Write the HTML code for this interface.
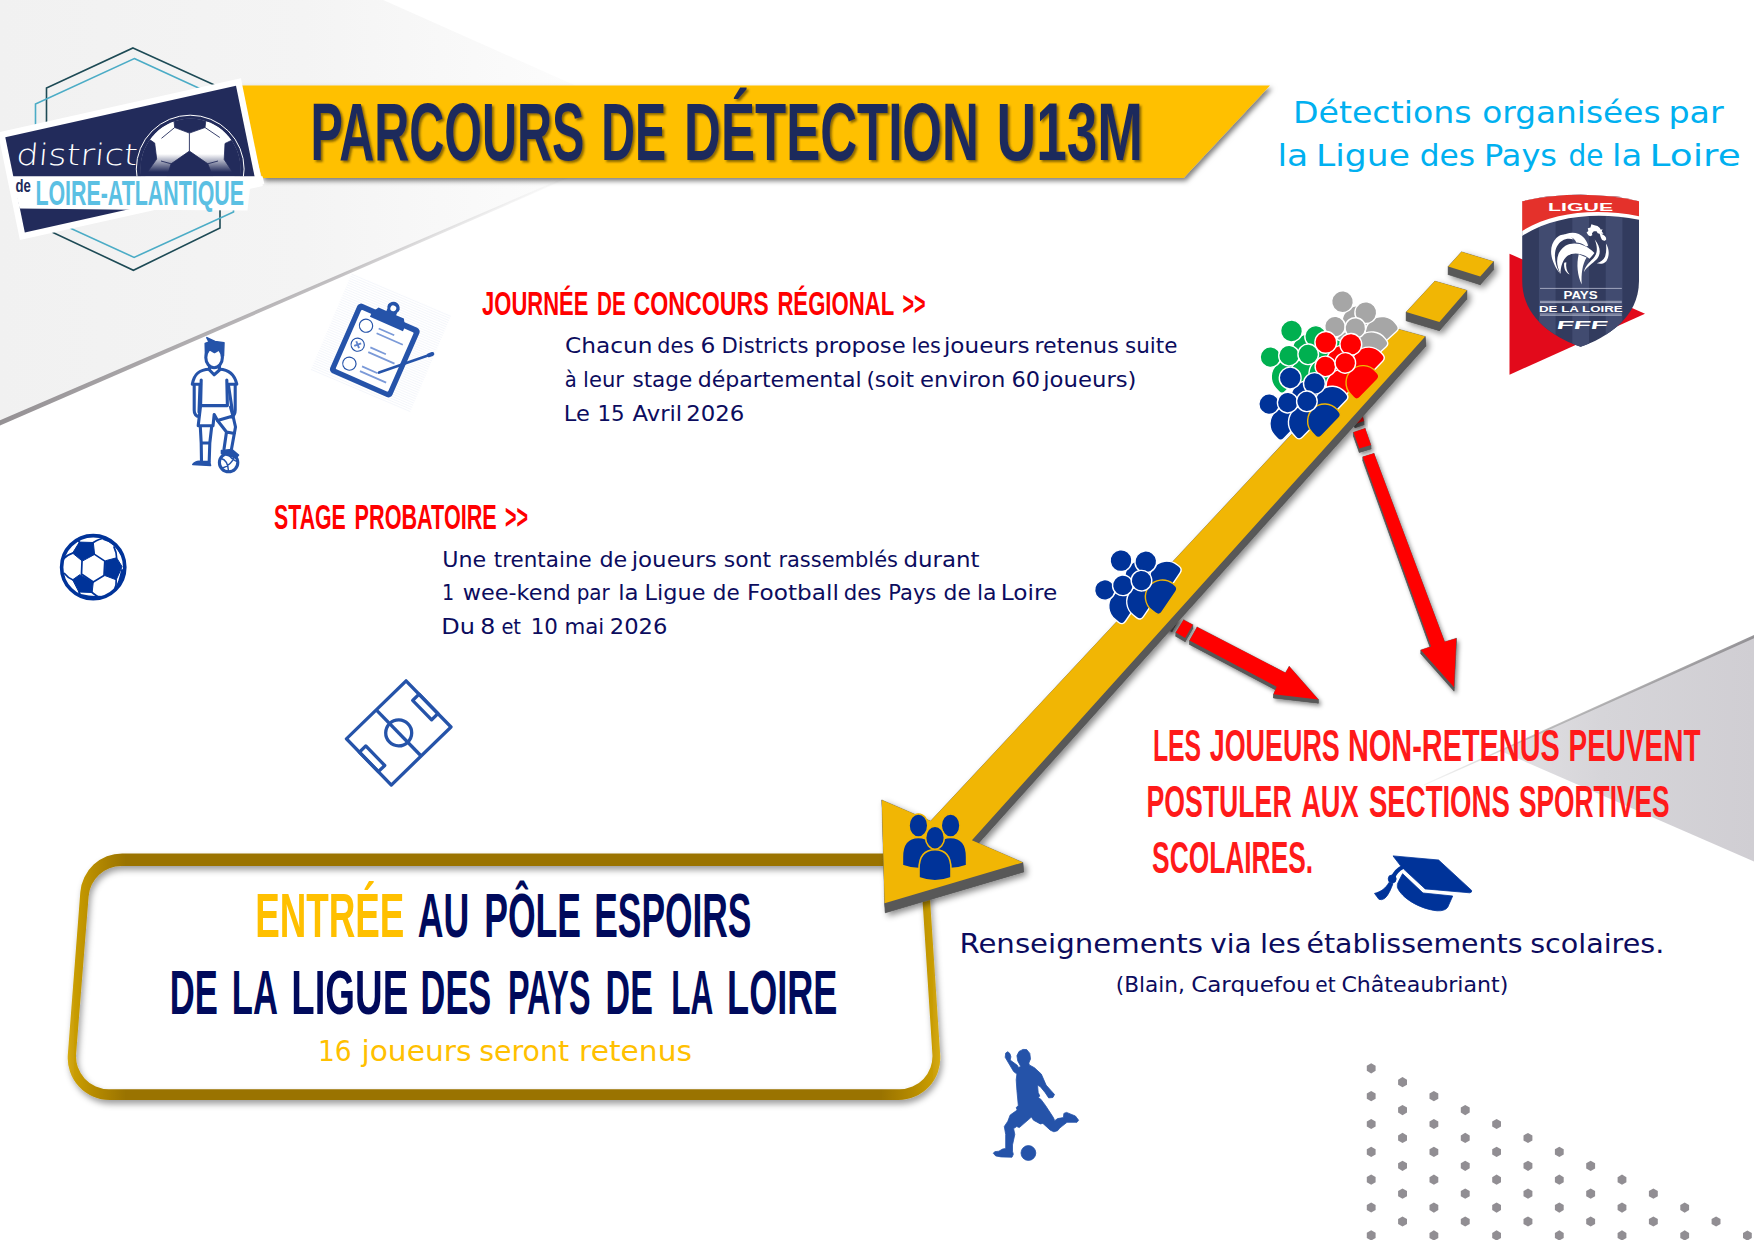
<!DOCTYPE html>
<html lang="fr"><head><meta charset="utf-8"><title>Parcours de détection U13M</title>
<style>
html,body{margin:0;padding:0;background:#fff;}
body{width:1754px;height:1240px;overflow:hidden;font-family:"Liberation Sans",sans-serif;}
svg{display:block;}
</style></head><body>
<svg width="1754" height="1240" viewBox="0 0 1754 1240">
<defs>
<filter id="sh3" x="-20%" y="-20%" width="150%" height="150%"><feDropShadow dx="3" dy="3" stdDeviation="3" flood-color="#000" flood-opacity="0.45"/></filter>
<filter id="sh2" x="-20%" y="-20%" width="150%" height="150%"><feDropShadow dx="2" dy="2.5" stdDeviation="2" flood-color="#000" flood-opacity="0.45"/></filter>
<filter id="shBanner" x="-5%" y="-20%" width="110%" height="150%"><feDropShadow dx="2.5" dy="3" stdDeviation="2.5" flood-color="#000" flood-opacity="0.5"/></filter>
<filter id="shText" x="-5%" y="-20%" width="110%" height="150%"><feDropShadow dx="2" dy="2" stdDeviation="1.2" flood-color="#3a2a00" flood-opacity="0.6"/></filter>
<filter id="shBox" x="-5%" y="-10%" width="110%" height="125%"><feDropShadow dx="2" dy="4" stdDeviation="3" flood-color="#000" flood-opacity="0.38"/></filter>
<filter id="blur2"><feGaussianBlur stdDeviation="1.2"/></filter>
<linearGradient id="gTL" gradientUnits="userSpaceOnUse" x1="0" y1="0" x2="677" y2="0">
 <stop offset="0" stop-color="#f1f1f1"/><stop offset="0.45" stop-color="#f4f4f4"/><stop offset="1" stop-color="#ffffff"/></linearGradient>
<linearGradient id="gTLs" gradientUnits="userSpaceOnUse" x1="0" y1="0" x2="677" y2="0">
 <stop offset="0" stop-color="#8f8b8e" stop-opacity="0.95"/><stop offset="0.5" stop-color="#a9a6a9" stop-opacity="0.7"/><stop offset="0.85" stop-color="#cfcfcf" stop-opacity="0"/></linearGradient>
<linearGradient id="gR" gradientUnits="userSpaceOnUse" x1="1754" y1="0" x2="1500" y2="0">
 <stop offset="0" stop-color="#d0ced3"/><stop offset="0.6" stop-color="#d6d5d9"/><stop offset="1" stop-color="#e2e1e4"/></linearGradient>
<linearGradient id="gRs" gradientUnits="userSpaceOnUse" x1="1754" y1="0" x2="1424" y2="0">
 <stop offset="0" stop-color="#8c8a8e" stop-opacity="0.9"/><stop offset="0.7" stop-color="#aaa" stop-opacity="0.7"/><stop offset="1" stop-color="#ccc" stop-opacity="0.2"/></linearGradient>
</defs>
<rect width="1754" height="1240" fill="#fff"/>
<polygon points="0,0 383.2,0 677,130.7 0,422.2" fill="url(#gTL)"/>
<polygon points="0,420.2 677,129.2 677,131 0,425.6" fill="url(#gTLs)"/>
<polygon points="1754,636.2 1500,750.8 1754,861.4" fill="url(#gR)"/>
<polygon points="1754,635 1424,784.3 1424,785.6 1754,638.3" fill="url(#gRs)"/>
<g fill="#918e93"><polygon points="1371.2,1063.2 1375.6,1065.8 1375.6,1070.8 1371.2,1073.4 1366.8,1070.8 1366.8,1065.8"/><polygon points="1371.2,1091.0 1375.6,1093.6 1375.6,1098.7 1371.2,1101.2 1366.8,1098.7 1366.8,1093.6"/><polygon points="1371.2,1118.9 1375.6,1121.4 1375.6,1126.5 1371.2,1129.1 1366.8,1126.5 1366.8,1121.4"/><polygon points="1371.2,1146.7 1375.6,1149.3 1375.6,1154.4 1371.2,1156.9 1366.8,1154.4 1366.8,1149.3"/><polygon points="1371.2,1174.6 1375.6,1177.1 1375.6,1182.2 1371.2,1184.8 1366.8,1182.2 1366.8,1177.1"/><polygon points="1371.2,1202.4 1375.6,1205.0 1375.6,1210.1 1371.2,1212.6 1366.8,1210.1 1366.8,1205.0"/><polygon points="1371.2,1230.3 1375.6,1232.8 1375.6,1237.9 1371.2,1240.5 1366.8,1237.9 1366.8,1232.8"/><polygon points="1402.5,1077.1 1407.0,1079.7 1407.0,1084.8 1402.5,1087.3 1398.1,1084.8 1398.1,1079.7"/><polygon points="1402.5,1105.0 1407.0,1107.5 1407.0,1112.6 1402.5,1115.2 1398.1,1112.6 1398.1,1107.5"/><polygon points="1402.5,1132.8 1407.0,1135.4 1407.0,1140.5 1402.5,1143.0 1398.1,1140.5 1398.1,1135.4"/><polygon points="1402.5,1160.7 1407.0,1163.2 1407.0,1168.3 1402.5,1170.9 1398.1,1168.3 1398.1,1163.2"/><polygon points="1402.5,1188.5 1407.0,1191.1 1407.0,1196.2 1402.5,1198.7 1398.1,1196.2 1398.1,1191.1"/><polygon points="1402.5,1216.4 1407.0,1218.9 1407.0,1224.0 1402.5,1226.6 1398.1,1224.0 1398.1,1218.9"/><polygon points="1433.9,1091.1 1438.3,1093.6 1438.3,1098.7 1433.9,1101.3 1429.5,1098.7 1429.5,1093.6"/><polygon points="1433.9,1118.9 1438.3,1121.5 1438.3,1126.6 1433.9,1129.1 1429.5,1126.6 1429.5,1121.5"/><polygon points="1433.9,1146.8 1438.3,1149.3 1438.3,1154.4 1433.9,1157.0 1429.5,1154.4 1429.5,1149.3"/><polygon points="1433.9,1174.6 1438.3,1177.2 1438.3,1182.3 1433.9,1184.8 1429.5,1182.3 1429.5,1177.2"/><polygon points="1433.9,1202.5 1438.3,1205.0 1438.3,1210.1 1433.9,1212.7 1429.5,1210.1 1429.5,1205.0"/><polygon points="1433.9,1230.3 1438.3,1232.9 1438.3,1238.0 1433.9,1240.5 1429.5,1238.0 1429.5,1232.9"/><polygon points="1465.2,1105.0 1469.7,1107.5 1469.7,1112.6 1465.2,1115.2 1460.8,1112.6 1460.8,1107.5"/><polygon points="1465.2,1132.8 1469.7,1135.4 1469.7,1140.5 1465.2,1143.0 1460.8,1140.5 1460.8,1135.4"/><polygon points="1465.2,1160.7 1469.7,1163.2 1469.7,1168.3 1465.2,1170.9 1460.8,1168.3 1460.8,1163.2"/><polygon points="1465.2,1188.5 1469.7,1191.1 1469.7,1196.2 1465.2,1198.7 1460.8,1196.2 1460.8,1191.1"/><polygon points="1465.2,1216.4 1469.7,1218.9 1469.7,1224.0 1465.2,1226.6 1460.8,1224.0 1460.8,1218.9"/><polygon points="1496.6,1118.9 1501.0,1121.5 1501.0,1126.6 1496.6,1129.1 1492.2,1126.6 1492.2,1121.5"/><polygon points="1496.6,1146.8 1501.0,1149.3 1501.0,1154.4 1496.6,1157.0 1492.2,1154.4 1492.2,1149.3"/><polygon points="1496.6,1174.6 1501.0,1177.2 1501.0,1182.3 1496.6,1184.8 1492.2,1182.3 1492.2,1177.2"/><polygon points="1496.6,1202.5 1501.0,1205.0 1501.0,1210.1 1496.6,1212.7 1492.2,1210.1 1492.2,1205.0"/><polygon points="1496.6,1230.3 1501.0,1232.9 1501.0,1238.0 1496.6,1240.5 1492.2,1238.0 1492.2,1232.9"/><polygon points="1528.0,1132.9 1532.4,1135.4 1532.4,1140.5 1528.0,1143.0 1523.5,1140.5 1523.5,1135.4"/><polygon points="1528.0,1160.7 1532.4,1163.2 1532.4,1168.3 1528.0,1170.9 1523.5,1168.3 1523.5,1163.2"/><polygon points="1528.0,1188.5 1532.4,1191.1 1532.4,1196.2 1528.0,1198.7 1523.5,1196.2 1523.5,1191.1"/><polygon points="1528.0,1216.4 1532.4,1218.9 1532.4,1224.0 1528.0,1226.6 1523.5,1224.0 1523.5,1218.9"/><polygon points="1559.3,1146.8 1563.7,1149.3 1563.7,1154.4 1559.3,1157.0 1554.9,1154.4 1554.9,1149.3"/><polygon points="1559.3,1174.6 1563.7,1177.2 1563.7,1182.3 1559.3,1184.8 1554.9,1182.3 1554.9,1177.2"/><polygon points="1559.3,1202.5 1563.7,1205.0 1563.7,1210.1 1559.3,1212.7 1554.9,1210.1 1554.9,1205.0"/><polygon points="1559.3,1230.3 1563.7,1232.9 1563.7,1238.0 1559.3,1240.5 1554.9,1238.0 1554.9,1232.9"/><polygon points="1590.7,1160.7 1595.1,1163.3 1595.1,1168.4 1590.7,1170.9 1586.2,1168.4 1586.2,1163.3"/><polygon points="1590.7,1188.6 1595.1,1191.1 1595.1,1196.2 1590.7,1198.8 1586.2,1196.2 1586.2,1191.1"/><polygon points="1590.7,1216.4 1595.1,1219.0 1595.1,1224.1 1590.7,1226.6 1586.2,1224.1 1586.2,1219.0"/><polygon points="1622.0,1174.6 1626.4,1177.2 1626.4,1182.3 1622.0,1184.8 1617.6,1182.3 1617.6,1177.2"/><polygon points="1622.0,1202.5 1626.4,1205.0 1626.4,1210.1 1622.0,1212.7 1617.6,1210.1 1617.6,1205.0"/><polygon points="1622.0,1230.3 1626.4,1232.9 1626.4,1238.0 1622.0,1240.5 1617.6,1238.0 1617.6,1232.9"/><polygon points="1653.4,1188.6 1657.8,1191.1 1657.8,1196.2 1653.4,1198.8 1648.9,1196.2 1648.9,1191.1"/><polygon points="1653.4,1216.4 1657.8,1219.0 1657.8,1224.1 1653.4,1226.6 1648.9,1224.1 1648.9,1219.0"/><polygon points="1684.7,1202.5 1689.1,1205.0 1689.1,1210.1 1684.7,1212.7 1680.3,1210.1 1680.3,1205.0"/><polygon points="1684.7,1230.3 1689.1,1232.9 1689.1,1238.0 1684.7,1240.5 1680.3,1238.0 1680.3,1232.9"/><polygon points="1716.1,1216.4 1720.5,1219.0 1720.5,1224.1 1716.1,1226.6 1711.6,1224.1 1711.6,1219.0"/><polygon points="1747.4,1230.4 1751.8,1232.9 1751.8,1238.0 1747.4,1240.6 1743.0,1238.0 1743.0,1232.9"/></g>
<polygon points="236,85.4 1270,85.4 1183.5,178 262,178" fill="#FFC000" filter="url(#shBanner)"/>
<polygon points="133,48 220,87.6 220,228 133.4,270.3 46.5,229.4 46.5,88" fill="none" stroke="#1d4a55" stroke-width="1.6"/>
<polygon points="134.3,58.6 233.5,104 233.5,212 134.1,257.4 35.5,212.2 35.5,103.9" fill="none" stroke="#4bacc6" stroke-width="1.6"/>
<polygon points="-2.1,132.4 240.9,78.3 262.9,185.9 19.9,240.0" fill="#fff"/>
<polygon points="5.3,137.2 236.0,85.8 255.5,181.1 24.8,232.5" fill="#222B5B"/>
<clipPath id="cpBall"><polygon points="5.3,137.2 236.0,85.8 255.5,176.4 13.4,176.4"/></clipPath>
<clipPath id="cpBall2"><circle cx="190.5" cy="168.5" r="50"/></clipPath>
<linearGradient id="gBall" gradientUnits="userSpaceOnUse" x1="0" y1="154" x2="0" y2="172"><stop offset="0" stop-color="#222B5B" stop-opacity="0"/><stop offset="1" stop-color="#222B5B" stop-opacity="1"/></linearGradient>
<g clip-path="url(#cpBall)"><circle cx="190.2" cy="169.1" r="53.9" fill="none" stroke="#fff" stroke-width="1"/><g clip-path="url(#cpBall2)"><circle cx="190.5" cy="168.5" r="50" fill="#fff"/><g fill="#222B5B" stroke="#222B5B" stroke-width="0.8"><polygon points="170,112 210,112 205.8,120.8 205,127.5 189.4,133.1 174.7,127.5 173.9,120"/><polygon points="189.4,151.1 207.8,163.8 214,180 166,180 171.1,163.8"/><polygon points="130,130 150.7,140.3 154.7,143.1 156.7,159.1 148.7,170.2 140,185 130,185"/><polygon points="250,130 232.5,139.9 225,143.5 224.2,159.5 231.3,170.2 240,185 250,185"/></g><g stroke="#222B5B" stroke-width="0.9" fill="none"><path d="M174.7,127.5 L161.5,138.3 M205,127.5 L219.8,137.5 M189.4,133.1 L189.4,151.1 M171.1,163.8 L161,161 M207.8,163.8 L218,161"/></g><rect x="130" y="150" width="120" height="40" fill="url(#gBall)"/></g></g>
<polygon points="12,176.2 262.5,176.2 264.3,183.7 250,188 247.5,210.5 133,209.8 19.6,208.4" fill="#fff"/>
<g transform="translate(15.4,164.5) skewX(-5)"><text x="0.0" y="0.0" font-family="'DejaVu Sans', sans-serif" font-size="29.50" font-weight="200" fill="#fff" textLength="121.5" lengthAdjust="spacingAndGlyphs" >district</text></g>
<polygon points="1509.5,253.7 1645,313.8 1509.5,374.7" fill="#e20a1b"/>
<clipPath id="cpShield"><path d="M1522.2,201.2 Q1580.6,188.5 1639,201.2 L1639,281 C1639,318 1606,338 1580.6,346.8 C1555,338 1522.2,318 1522.2,281 Z"/></clipPath><g clip-path="url(#cpShield)"><rect x="1520" y="190" width="122" height="160" fill="#323b5e"/><rect x="1538.9" y="190" width="16.7" height="160" fill="#414b70"/><rect x="1572.3" y="190" width="16.7" height="160" fill="#414b70"/><rect x="1605.7" y="190" width="16.7" height="160" fill="#414b70"/><path d="M1515,185 L1645,185 L1645,221 C1600,211 1555,215 1522,236 L1515,240 Z" fill="#fff"/><path d="M1515,185 L1645,185 L1645,217.5 C1600,207.5 1555,211 1522,231 L1515,235 Z" fill="#e4312b"/></g><g fill="#fff" transform="translate(1540,215) scale(0.06046)"><path d="M335,975 C180,780 120,540 270,380 C360,295 480,310 555,405 C450,370 340,410 280,520 C215,640 250,840 335,975 Z"/><path d="M355,350 C470,270 640,270 730,380 C770,430 790,470 795,510 L765,520 C700,470 640,455 600,455 C590,420 560,390 530,375 C470,345 410,340 355,350 Z"/><path d="M340,975 C250,800 260,620 420,510 C560,430 760,480 900,630 L820,725 C720,640 560,600 450,680 C370,750 340,860 340,975 Z"/><path d="M400,790 C390,880 420,950 490,985 C440,930 425,860 435,780 Z"/><path d="M640,650 L770,705 C700,820 680,980 690,1150 C620,1000 600,820 640,650 Z"/><path d="M905,405 C1000,520 1020,650 930,740 C870,800 780,850 725,945 C750,840 820,780 880,720 C950,640 960,540 905,405 Z"/><path d="M1090,470 C1150,560 1150,680 1100,760 C1060,810 1000,815 940,800 C1000,780 1050,740 1075,690 C1100,620 1100,540 1090,470 Z"/><path d="M800,335 L770,290 L800,265 L790,220 L835,205 L850,155 L900,170 L950,180 L990,215 L1005,245 L1035,235 L1020,270 L1050,310 L1010,310 C1060,330 1100,360 1095,400 C1085,435 1040,430 1020,400 C1000,370 1000,340 985,310 L955,300 L935,270 L890,270 L860,300 L865,335 L830,350 Z"/></g><g stroke="#c9cde0" stroke-width="0.7"><path d="M1540,288.4 H1621.8 M1540,301.3 H1621.8 M1540,302.6 H1621.8 M1540,314 H1621.8 M1540,315.3 H1621.8"/></g>
<g transform="translate(1556,329) skewX(-12)"><text x="0.0" y="0.0" font-family="'Liberation Sans', sans-serif" font-size="11.50" font-weight="bold" fill="#fff" textLength="51.0" lengthAdjust="spacingAndGlyphs" >FFF</text></g>
<linearGradient id="gFrame" gradientUnits="userSpaceOnUse" x1="64" y1="0" x2="943" y2="0">
<stop offset="0" stop-color="#dcb21a"/><stop offset="0.012" stop-color="#c99d05"/><stop offset="0.035" stop-color="#b58a00"/><stop offset="0.07" stop-color="#9a7300"/>
<stop offset="0.93" stop-color="#9a7300"/><stop offset="0.965" stop-color="#b58a00"/><stop offset="0.988" stop-color="#c99d05"/><stop offset="1" stop-color="#dcb21a"/></linearGradient>
<path d="M80.3,892.2 A42.0,42.0 0 0 1 122.2,853.4 L887.7,853.4 A42.0,42.0 0 0 1 929.6,892.7 L940.2,1055.3 A42.0,42.0 0 0 1 898.3,1100.0 L109.7,1100.0 A42.0,42.0 0 0 1 67.8,1054.8 Z M88.6,896.4 A33.0,33.0 0 0 1 121.5,866.0 L889.3,866.0 A33.0,33.0 0 0 1 922.3,896.9 L932.4,1054.2 A33.0,33.0 0 0 1 899.4,1089.3 L109.0,1089.3 A33.0,33.0 0 0 1 76.1,1053.7 Z " fill="url(#gFrame)" fill-rule="evenodd" filter="url(#shBox)"/>
<g filter="url(#sh2)"><g fill="#595959" stroke="#595959" stroke-width="0.35" stroke-linejoin="round"><polygon points="1352.0,417.8 1361.0,414.8 1364.0,424.8 1355.0,427.8"/><polygon points="1352.0,414.0 1361.0,411.0 1361.0,414.8 1352.0,417.8"/><polygon points="1361.0,411.0 1364.0,421.0 1364.0,424.8 1361.0,414.8"/><polygon points="1364.0,421.0 1355.0,424.0 1355.0,427.8 1364.0,424.8"/><polygon points="1355.0,424.0 1352.0,414.0 1352.0,417.8 1355.0,427.8"/></g></g><polygon points="1352.0,414.0 1361.0,411.0 1364.0,421.0 1355.0,424.0" fill="#ff0000"/>
<g filter="url(#sh2)"><g fill="#595959" stroke="#595959" stroke-width="0.35" stroke-linejoin="round"><polygon points="1170.0,616.8 1178.0,620.8 1172.0,631.8 1164.0,627.8"/><polygon points="1170.0,613.0 1178.0,617.0 1178.0,620.8 1170.0,616.8"/><polygon points="1178.0,617.0 1172.0,628.0 1172.0,631.8 1178.0,620.8"/><polygon points="1172.0,628.0 1164.0,624.0 1164.0,627.8 1172.0,631.8"/><polygon points="1164.0,624.0 1170.0,613.0 1170.0,616.8 1164.0,627.8"/></g></g><polygon points="1170.0,613.0 1178.0,617.0 1172.0,628.0 1164.0,624.0" fill="#ff0000"/>
<g filter="url(#sh3)"><g fill="#595959" stroke="#595959" stroke-width="0.35" stroke-linejoin="round"><polygon points="1392.3,336.7 1426.0,346.0 972.7,849.7 1023.7,871.9 885.4,912.8 882.6,809.4 931.4,830.6"/><polygon points="1391.5,327.2 1425.2,336.5 1426.0,346.0 1392.3,336.7"/><polygon points="1425.2,336.5 971.9,840.2 972.7,849.7 1426.0,346.0"/><polygon points="971.9,840.2 1022.9,862.4 1023.7,871.9 972.7,849.7"/><polygon points="1022.9,862.4 884.6,903.3 885.4,912.8 1023.7,871.9"/><polygon points="884.6,903.3 881.8,799.9 882.6,809.4 885.4,912.8"/><polygon points="881.8,799.9 930.6,821.1 931.4,830.6 882.6,809.4"/><polygon points="930.6,821.1 1391.5,327.2 1392.3,336.7 931.4,830.6"/></g></g><polygon points="1391.5,327.2 1425.2,336.5 971.9,840.2 1022.9,862.4 884.6,903.3 881.8,799.9 930.6,821.1" fill="#f1b604"/>
<g filter="url(#sh3)"><g fill="#595959" stroke="#595959" stroke-width="0.35" stroke-linejoin="round"><polygon points="1434.9,289.9 1466.9,299.1 1439.4,330.7 1406.2,320.8"/><polygon points="1434.9,281.1 1466.9,290.3 1466.9,299.1 1434.9,289.9"/><polygon points="1466.9,290.3 1439.4,321.9 1439.4,330.7 1466.9,299.1"/><polygon points="1439.4,321.9 1406.2,312.0 1406.2,320.8 1439.4,330.7"/><polygon points="1406.2,312.0 1434.9,281.1 1434.9,289.9 1406.2,320.8"/></g></g><polygon points="1434.9,281.1 1466.9,290.3 1439.4,321.9 1406.2,312.0" fill="#f1b604"/>
<g filter="url(#sh3)"><g fill="#595959" stroke="#595959" stroke-width="0.35" stroke-linejoin="round"><polygon points="1461.5,260.0 1493.5,269.8 1480.2,284.7 1448.2,274.6"/><polygon points="1461.5,251.8 1493.5,261.6 1493.5,269.8 1461.5,260.0"/><polygon points="1493.5,261.6 1480.2,276.5 1480.2,284.7 1493.5,269.8"/><polygon points="1480.2,276.5 1448.2,266.4 1448.2,274.6 1480.2,284.7"/><polygon points="1448.2,266.4 1461.5,251.8 1461.5,260.0 1448.2,274.6"/></g></g><polygon points="1461.5,251.8 1493.5,261.6 1480.2,276.5 1448.2,266.4" fill="#f1b604"/>
<g filter="url(#sh2)"><g fill="#595959" stroke="#595959" stroke-width="0.35" stroke-linejoin="round"><polygon points="1353.4,436.0 1365.1,432.1 1371.0,448.9 1359.3,452.4"/><polygon points="1353.4,432.2 1365.1,428.3 1365.1,432.1 1353.4,436.0"/><polygon points="1365.1,428.3 1371.0,445.1 1371.0,448.9 1365.1,432.1"/><polygon points="1371.0,445.1 1359.3,448.6 1359.3,452.4 1371.0,448.9"/><polygon points="1359.3,448.6 1353.4,432.2 1353.4,436.0 1359.3,452.4"/></g></g><polygon points="1353.4,432.2 1365.1,428.3 1371.0,445.1 1359.3,448.6" fill="#ff0000"/>
<g filter="url(#sh2)"><g fill="#595959" stroke="#595959" stroke-width="0.35" stroke-linejoin="round"><polygon points="1362.8,460.6 1374.0,457.1 1444.7,645.5 1456.4,642.0 1454.0,691.1 1420.8,653.7 1431.1,650.2"/><polygon points="1362.8,456.8 1374.0,453.3 1374.0,457.1 1362.8,460.6"/><polygon points="1374.0,453.3 1444.7,641.7 1444.7,645.5 1374.0,457.1"/><polygon points="1444.7,641.7 1456.4,638.2 1456.4,642.0 1444.7,645.5"/><polygon points="1456.4,638.2 1454.0,687.3 1454.0,691.1 1456.4,642.0"/><polygon points="1454.0,687.3 1420.8,649.9 1420.8,653.7 1454.0,691.1"/><polygon points="1420.8,649.9 1431.1,646.4 1431.1,650.2 1420.8,653.7"/><polygon points="1431.1,646.4 1362.8,456.8 1362.8,460.6 1431.1,650.2"/></g></g><polygon points="1362.8,456.8 1374.0,453.3 1444.7,641.7 1456.4,638.2 1454.0,687.3 1420.8,649.9 1431.1,646.4" fill="#ff0000"/>
<g filter="url(#sh2)"><g fill="#595959" stroke="#595959" stroke-width="0.35" stroke-linejoin="round"><polygon points="1183.6,623.5 1192.8,628.5 1185.2,641.7 1175.8,636.3"/><polygon points="1183.6,619.7 1192.8,624.7 1192.8,628.5 1183.6,623.5"/><polygon points="1192.8,624.7 1185.2,637.9 1185.2,641.7 1192.8,628.5"/><polygon points="1185.2,637.9 1175.8,632.5 1175.8,636.3 1185.2,641.7"/><polygon points="1175.8,632.5 1183.6,619.7 1183.6,623.5 1175.8,636.3"/></g></g><polygon points="1183.6,619.7 1192.8,624.7 1185.2,637.9 1175.8,632.5" fill="#ff0000"/>
<g filter="url(#sh2)"><g fill="#595959" stroke="#595959" stroke-width="0.35" stroke-linejoin="round"><polygon points="1197.1,630.7 1285.4,676.6 1289.2,670.1 1318.4,703.2 1273.5,698.0 1276.7,690.5 1189.5,644.4"/><polygon points="1197.1,626.9 1285.4,672.8 1285.4,676.6 1197.1,630.7"/><polygon points="1285.4,672.8 1289.2,666.3 1289.2,670.1 1285.4,676.6"/><polygon points="1289.2,666.3 1318.4,699.4 1318.4,703.2 1289.2,670.1"/><polygon points="1318.4,699.4 1273.5,694.2 1273.5,698.0 1318.4,703.2"/><polygon points="1273.5,694.2 1276.7,686.7 1276.7,690.5 1273.5,698.0"/><polygon points="1276.7,686.7 1189.5,640.6 1189.5,644.4 1276.7,690.5"/><polygon points="1189.5,640.6 1197.1,626.9 1197.1,630.7 1189.5,644.4"/></g></g><polygon points="1197.1,626.9 1285.4,672.8 1289.2,666.3 1318.4,699.4 1273.5,694.2 1276.7,686.7 1189.5,640.6" fill="#ff0000"/>
<g transform="translate(1342.5,301.7) rotate(0.0)"><g transform="translate(0.0,0.0) rotate(-38.0)" fill="#a6a6a6" stroke="#fff" stroke-width="1.4"><path d="M-17,31 L-17,26.5 A17,17 0 0 1 17,26.5 L17,29 Q17,33.5 12.5,33.8 L-12,35.5 Q-17,35.8 -17,31 Z"/><circle r="10.9" stroke="#fff"/></g><g transform="translate(23.3,10.9) rotate(-38.0)" fill="#a6a6a6" stroke="#fff" stroke-width="1.4"><path d="M-17,31 L-17,26.5 A17,17 0 0 1 17,26.5 L17,29 Q17,33.5 12.5,33.8 L-12,35.5 Q-17,35.8 -17,31 Z"/><circle r="10.9" stroke="#fff"/></g><g transform="translate(-7.5,24.9) rotate(-38.0)" fill="#a6a6a6" stroke="#fff" stroke-width="1.4"><path d="M-17,31 L-17,26.5 A17,17 0 0 1 17,26.5 L17,29 Q17,33.5 12.5,33.8 L-12,35.5 Q-17,35.8 -17,31 Z"/><circle r="10.3" stroke="#fff"/></g><g transform="translate(12.8,26.3) rotate(-38.0)" fill="#a6a6a6" stroke="#fff" stroke-width="1.4"><path d="M-17,31 L-17,26.5 A17,17 0 0 1 17,26.5 L17,29 Q17,33.5 12.5,33.8 L-12,35.5 Q-17,35.8 -17,31 Z"/><circle r="10.3" stroke="#fff"/></g></g>
<g transform="translate(1291.5,331.0) rotate(0.0)"><g transform="translate(0.0,0.0) rotate(-42.0)" fill="#00b050" stroke="#fff" stroke-width="1.4"><path d="M-17,31 L-17,26.5 A17,17 0 0 1 17,26.5 L17,29 Q17,33.5 12.5,33.8 L-12,35.5 Q-17,35.8 -17,31 Z"/><circle r="10.9" stroke="#fff"/></g><g transform="translate(24.2,5.5) rotate(-42.0)" fill="#00b050" stroke="#fff" stroke-width="1.4"><path d="M-17,31 L-17,26.5 A17,17 0 0 1 17,26.5 L17,29 Q17,33.5 12.5,33.8 L-12,35.5 Q-17,35.8 -17,31 Z"/><circle r="10.9" stroke="#fff"/></g><g transform="translate(-21.0,26.1) rotate(-42.0)" fill="#00b050" stroke="#fff" stroke-width="1.4"><path d="M-17,31 L-17,26.5 A17,17 0 0 1 17,26.5 L17,29 Q17,33.5 12.5,33.8 L-12,35.5 Q-17,35.8 -17,31 Z"/><circle r="10.3" stroke="#fff"/></g><g transform="translate(-2.5,24.7) rotate(-42.0)" fill="#00b050" stroke="#fff" stroke-width="1.4"><path d="M-17,31 L-17,26.5 A17,17 0 0 1 17,26.5 L17,29 Q17,33.5 12.5,33.8 L-12,35.5 Q-17,35.8 -17,31 Z"/><circle r="10.3" stroke="#fff"/></g><g transform="translate(16.7,23.3) rotate(-42.0)" fill="#00b050" stroke="#fff" stroke-width="1.4"><path d="M-17,31 L-17,26.5 A17,17 0 0 1 17,26.5 L17,29 Q17,33.5 12.5,33.8 L-12,35.5 Q-17,35.8 -17,31 Z"/><circle r="10.3" stroke="#fff"/></g></g>
<g transform="translate(1325.8,342.4) rotate(0.0)"><g transform="translate(0.0,0.0) rotate(-42.0)" fill="#ff0000" stroke="#fff" stroke-width="1.4"><path d="M-17,31 L-17,26.5 A17,17 0 0 1 17,26.5 L17,29 Q17,33.5 12.5,33.8 L-12,35.5 Q-17,35.8 -17,31 Z"/><circle r="10.9" stroke="#fff"/></g><g transform="translate(25.0,2.0) rotate(-42.0)" fill="#ff0000" stroke="#fff" stroke-width="1.4"><path d="M-17,31 L-17,26.5 A17,17 0 0 1 17,26.5 L17,29 Q17,33.5 12.5,33.8 L-12,35.5 Q-17,35.8 -17,31 Z"/><circle r="10.9" stroke="#fff"/></g><g transform="translate(-0.4,24.0) rotate(-42.0)" fill="#ff0000" stroke="#fff" stroke-width="1.4"><path d="M-17,31 L-17,26.5 A17,17 0 0 1 17,26.5 L17,29 Q17,33.5 12.5,33.8 L-12,35.5 Q-17,35.8 -17,31 Z"/><circle r="10.3" stroke="#fff"/></g><g transform="translate(19.5,20.5) rotate(-42.0)" fill="#ff0000" stroke="#f1b604" stroke-width="1.4"><path d="M-17,31 L-17,26.5 A17,17 0 0 1 17,26.5 L17,29 Q17,33.5 12.5,33.8 L-12,35.5 Q-17,35.8 -17,31 Z"/><circle r="10.3" stroke="#fff"/></g></g>
<g transform="translate(1290.2,378.0) rotate(0.0)"><g transform="translate(0.0,0.0) rotate(-42.0)" fill="#003399" stroke="#fff" stroke-width="1.4"><path d="M-17,31 L-17,26.5 A17,17 0 0 1 17,26.5 L17,29 Q17,33.5 12.5,33.8 L-12,35.5 Q-17,35.8 -17,31 Z"/><circle r="10.9" stroke="#fff"/></g><g transform="translate(24.2,5.5) rotate(-42.0)" fill="#003399" stroke="#fff" stroke-width="1.4"><path d="M-17,31 L-17,26.5 A17,17 0 0 1 17,26.5 L17,29 Q17,33.5 12.5,33.8 L-12,35.5 Q-17,35.8 -17,31 Z"/><circle r="10.9" stroke="#fff"/></g><g transform="translate(-21.0,26.1) rotate(-42.0)" fill="#003399" stroke="#fff" stroke-width="1.4"><path d="M-17,31 L-17,26.5 A17,17 0 0 1 17,26.5 L17,29 Q17,33.5 12.5,33.8 L-12,35.5 Q-17,35.8 -17,31 Z"/><circle r="10.3" stroke="#fff"/></g><g transform="translate(-2.5,24.7) rotate(-42.0)" fill="#003399" stroke="#fff" stroke-width="1.4"><path d="M-17,31 L-17,26.5 A17,17 0 0 1 17,26.5 L17,29 Q17,33.5 12.5,33.8 L-12,35.5 Q-17,35.8 -17,31 Z"/><circle r="10.3" stroke="#fff"/></g><g transform="translate(16.7,23.3) rotate(-42.0)" fill="#003399" stroke="#f1b604" stroke-width="1.4"><path d="M-17,31 L-17,26.5 A17,17 0 0 1 17,26.5 L17,29 Q17,33.5 12.5,33.8 L-12,35.5 Q-17,35.8 -17,31 Z"/><circle r="10.3" stroke="#fff"/></g></g>
<g transform="translate(1121.0,560.6) rotate(-10.0)"><g transform="translate(0.0,0.0) rotate(-42.0)" fill="#003399" stroke="#fff" stroke-width="1.4"><path d="M-17,31 L-17,26.5 A17,17 0 0 1 17,26.5 L17,29 Q17,33.5 12.5,33.8 L-12,35.5 Q-17,35.8 -17,31 Z"/><circle r="10.9" stroke="#fff"/></g><g transform="translate(24.2,5.5) rotate(-42.0)" fill="#003399" stroke="#fff" stroke-width="1.4"><path d="M-17,31 L-17,26.5 A17,17 0 0 1 17,26.5 L17,29 Q17,33.5 12.5,33.8 L-12,35.5 Q-17,35.8 -17,31 Z"/><circle r="10.9" stroke="#fff"/></g><g transform="translate(-21.0,26.1) rotate(-42.0)" fill="#003399" stroke="#fff" stroke-width="1.4"><path d="M-17,31 L-17,26.5 A17,17 0 0 1 17,26.5 L17,29 Q17,33.5 12.5,33.8 L-12,35.5 Q-17,35.8 -17,31 Z"/><circle r="10.3" stroke="#fff"/></g><g transform="translate(-2.5,24.7) rotate(-42.0)" fill="#003399" stroke="#fff" stroke-width="1.4"><path d="M-17,31 L-17,26.5 A17,17 0 0 1 17,26.5 L17,29 Q17,33.5 12.5,33.8 L-12,35.5 Q-17,35.8 -17,31 Z"/><circle r="10.3" stroke="#fff"/></g><g transform="translate(16.7,23.3) rotate(-42.0)" fill="#003399" stroke="#f1b604" stroke-width="1.4"><path d="M-17,31 L-17,26.5 A17,17 0 0 1 17,26.5 L17,29 Q17,33.5 12.5,33.8 L-12,35.5 Q-17,35.8 -17,31 Z"/><circle r="10.3" stroke="#fff"/></g></g>
<g fill="#003399" stroke="#f1b604" stroke-width="1.6"><path d="M902.4,857.0 c0,-14 6,-19.5 16,-19.5 c10,0 16,5.5 16,19.5 l0,8.5 q-16,6 -32,0 z"/><ellipse cx="918.4" cy="825.5" rx="9.4" ry="11.5"/><path d="M934.6,857.0 c0,-14 6,-19.5 16,-19.5 c10,0 16,5.5 16,19.5 l0,8.5 q-16,6 -32,0 z"/><ellipse cx="950.6" cy="825.5" rx="9.4" ry="11.5"/><path d="M919.0,869.2 c0,-14 6,-19.5 16,-19.5 c10,0 16,5.5 16,19.5 l0,8.5 q-16,6 -32,0 z"/><ellipse cx="935.0" cy="837.7" rx="9.4" ry="11.5"/></g>
<g filter="url(#shText)"><text x="310.5" y="160.3" font-family="'Liberation Sans', sans-serif" font-size="81.60" font-weight="bold" fill="#1F2A5C" textLength="273.9" lengthAdjust="spacingAndGlyphs" >PARCOURS</text><text x="601.3" y="160.3" font-family="'Liberation Sans', sans-serif" font-size="81.60" font-weight="bold" fill="#1F2A5C" textLength="64.9" lengthAdjust="spacingAndGlyphs" >DE</text><text x="684.1" y="160.3" font-family="'Liberation Sans', sans-serif" font-size="81.60" font-weight="bold" fill="#1F2A5C" textLength="294.8" lengthAdjust="spacingAndGlyphs" >DÉTECTION</text><text x="996.6" y="160.3" font-family="'Liberation Sans', sans-serif" font-size="81.60" font-weight="bold" fill="#1F2A5C" textLength="146.5" lengthAdjust="spacingAndGlyphs" >U13M</text></g>
<text x="1292.9" y="122.9" font-family="'DejaVu Sans', sans-serif" font-size="30.90" font-weight="normal" fill="#00b0f0" textLength="178.7" lengthAdjust="spacingAndGlyphs" >Détections</text><text x="1482.2" y="122.9" font-family="'DejaVu Sans', sans-serif" font-size="30.90" font-weight="normal" fill="#00b0f0" textLength="178.3" lengthAdjust="spacingAndGlyphs" >organisées</text><text x="1668.4" y="122.9" font-family="'DejaVu Sans', sans-serif" font-size="30.90" font-weight="normal" fill="#00b0f0" textLength="55.3" lengthAdjust="spacingAndGlyphs" >par</text><text x="1277.4" y="166.3" font-family="'DejaVu Sans', sans-serif" font-size="30.90" font-weight="normal" fill="#00b0f0" textLength="30.8" lengthAdjust="spacingAndGlyphs" >la</text><text x="1316.0" y="166.3" font-family="'DejaVu Sans', sans-serif" font-size="30.90" font-weight="normal" fill="#00b0f0" textLength="93.9" lengthAdjust="spacingAndGlyphs" >Ligue</text><text x="1419.7" y="166.3" font-family="'DejaVu Sans', sans-serif" font-size="30.90" font-weight="normal" fill="#00b0f0" textLength="55.4" lengthAdjust="spacingAndGlyphs" >des</text><text x="1484.0" y="166.3" font-family="'DejaVu Sans', sans-serif" font-size="30.90" font-weight="normal" fill="#00b0f0" textLength="73.0" lengthAdjust="spacingAndGlyphs" >Pays</text><text x="1568.5" y="166.3" font-family="'DejaVu Sans', sans-serif" font-size="30.90" font-weight="normal" fill="#00b0f0" textLength="35.0" lengthAdjust="spacingAndGlyphs" >de</text><text x="1612.0" y="166.3" font-family="'DejaVu Sans', sans-serif" font-size="30.90" font-weight="normal" fill="#00b0f0" textLength="30.2" lengthAdjust="spacingAndGlyphs" >la</text><text x="1649.6" y="166.3" font-family="'DejaVu Sans', sans-serif" font-size="30.90" font-weight="normal" fill="#00b0f0" textLength="91.1" lengthAdjust="spacingAndGlyphs" >Loire</text><text x="482.1" y="315.2" font-family="'Liberation Sans', sans-serif" font-size="33.60" font-weight="bold" fill="#ff0000" textLength="106.3" lengthAdjust="spacingAndGlyphs" >JOURNÉE</text><text x="597.1" y="315.2" font-family="'Liberation Sans', sans-serif" font-size="33.60" font-weight="bold" fill="#ff0000" textLength="28.7" lengthAdjust="spacingAndGlyphs" >DE</text><text x="633.4" y="315.2" font-family="'Liberation Sans', sans-serif" font-size="33.60" font-weight="bold" fill="#ff0000" textLength="135.2" lengthAdjust="spacingAndGlyphs" >CONCOURS</text><text x="777.4" y="315.2" font-family="'Liberation Sans', sans-serif" font-size="33.60" font-weight="bold" fill="#ff0000" textLength="116.8" lengthAdjust="spacingAndGlyphs" >RÉGIONAL</text><text x="902.5" y="315.2" font-family="'Liberation Sans', sans-serif" font-size="33.60" font-weight="bold" fill="#ff0000" textLength="23.1" lengthAdjust="spacingAndGlyphs" >&gt;&gt;</text><text x="274.0" y="528.7" font-family="'Liberation Sans', sans-serif" font-size="34.60" font-weight="bold" fill="#ff0000" textLength="71.8" lengthAdjust="spacingAndGlyphs" >STAGE</text><text x="354.6" y="528.7" font-family="'Liberation Sans', sans-serif" font-size="34.60" font-weight="bold" fill="#ff0000" textLength="142.2" lengthAdjust="spacingAndGlyphs" >PROBATOIRE</text><text x="505.0" y="528.7" font-family="'Liberation Sans', sans-serif" font-size="34.60" font-weight="bold" fill="#ff0000" textLength="23.0" lengthAdjust="spacingAndGlyphs" >&gt;&gt;</text><text x="565.0" y="353.4" font-family="'DejaVu Sans', sans-serif" font-size="21.00" font-weight="normal" fill="#0c0c5e" textLength="87.4" lengthAdjust="spacingAndGlyphs" >Chacun</text><text x="657.3" y="353.4" font-family="'DejaVu Sans', sans-serif" font-size="21.00" font-weight="normal" fill="#0c0c5e" textLength="36.7" lengthAdjust="spacingAndGlyphs" >des</text><text x="700.6" y="353.4" font-family="'DejaVu Sans', sans-serif" font-size="21.00" font-weight="normal" fill="#0c0c5e" textLength="14.9" lengthAdjust="spacingAndGlyphs" >6</text><text x="721.5" y="353.4" font-family="'DejaVu Sans', sans-serif" font-size="21.00" font-weight="normal" fill="#0c0c5e" textLength="86.9" lengthAdjust="spacingAndGlyphs" >Districts</text><text x="814.4" y="353.4" font-family="'DejaVu Sans', sans-serif" font-size="21.00" font-weight="normal" fill="#0c0c5e" textLength="91.3" lengthAdjust="spacingAndGlyphs" >propose</text><text x="911.5" y="353.4" font-family="'DejaVu Sans', sans-serif" font-size="21.00" font-weight="normal" fill="#0c0c5e" textLength="29.4" lengthAdjust="spacingAndGlyphs" >les</text><text x="943.9" y="353.4" font-family="'DejaVu Sans', sans-serif" font-size="21.00" font-weight="normal" fill="#0c0c5e" textLength="85.8" lengthAdjust="spacingAndGlyphs" >joueurs</text><text x="1034.5" y="353.4" font-family="'DejaVu Sans', sans-serif" font-size="21.00" font-weight="normal" fill="#0c0c5e" textLength="84.2" lengthAdjust="spacingAndGlyphs" >retenus</text><text x="1125.0" y="353.4" font-family="'DejaVu Sans', sans-serif" font-size="21.00" font-weight="normal" fill="#0c0c5e" textLength="52.4" lengthAdjust="spacingAndGlyphs" >suite</text><text x="564.7" y="387.3" font-family="'DejaVu Sans', sans-serif" font-size="21.00" font-weight="normal" fill="#0c0c5e" textLength="12.0" lengthAdjust="spacingAndGlyphs" >à</text><text x="583.1" y="387.3" font-family="'DejaVu Sans', sans-serif" font-size="21.00" font-weight="normal" fill="#0c0c5e" textLength="40.9" lengthAdjust="spacingAndGlyphs" >leur</text><text x="632.4" y="387.3" font-family="'DejaVu Sans', sans-serif" font-size="21.00" font-weight="normal" fill="#0c0c5e" textLength="59.9" lengthAdjust="spacingAndGlyphs" >stage</text><text x="697.7" y="387.3" font-family="'DejaVu Sans', sans-serif" font-size="21.00" font-weight="normal" fill="#0c0c5e" textLength="163.9" lengthAdjust="spacingAndGlyphs" >départemental</text><text x="866.4" y="387.3" font-family="'DejaVu Sans', sans-serif" font-size="21.00" font-weight="normal" fill="#0c0c5e" textLength="47.7" lengthAdjust="spacingAndGlyphs" >(soit</text><text x="920.1" y="387.3" font-family="'DejaVu Sans', sans-serif" font-size="21.00" font-weight="normal" fill="#0c0c5e" textLength="85.2" lengthAdjust="spacingAndGlyphs" >environ</text><text x="1011.6" y="387.3" font-family="'DejaVu Sans', sans-serif" font-size="21.00" font-weight="normal" fill="#0c0c5e" textLength="28.5" lengthAdjust="spacingAndGlyphs" >60</text><text x="1043.3" y="387.3" font-family="'DejaVu Sans', sans-serif" font-size="21.00" font-weight="normal" fill="#0c0c5e" textLength="93.2" lengthAdjust="spacingAndGlyphs" >joueurs)</text><text x="563.8" y="421.0" font-family="'DejaVu Sans', sans-serif" font-size="21.00" font-weight="normal" fill="#0c0c5e" textLength="26.0" lengthAdjust="spacingAndGlyphs" >Le</text><text x="597.5" y="421.0" font-family="'DejaVu Sans', sans-serif" font-size="21.00" font-weight="normal" fill="#0c0c5e" textLength="27.2" lengthAdjust="spacingAndGlyphs" >15</text><text x="632.5" y="421.0" font-family="'DejaVu Sans', sans-serif" font-size="21.00" font-weight="normal" fill="#0c0c5e" textLength="49.6" lengthAdjust="spacingAndGlyphs" >Avril</text><text x="686.3" y="421.0" font-family="'DejaVu Sans', sans-serif" font-size="21.00" font-weight="normal" fill="#0c0c5e" textLength="58.1" lengthAdjust="spacingAndGlyphs" >2026</text><text x="442.2" y="566.5" font-family="'DejaVu Sans', sans-serif" font-size="21.00" font-weight="normal" fill="#0c0c5e" textLength="44.0" lengthAdjust="spacingAndGlyphs" >Une</text><text x="493.8" y="566.5" font-family="'DejaVu Sans', sans-serif" font-size="21.00" font-weight="normal" fill="#0c0c5e" textLength="97.9" lengthAdjust="spacingAndGlyphs" >trentaine</text><text x="599.5" y="566.5" font-family="'DejaVu Sans', sans-serif" font-size="21.00" font-weight="normal" fill="#0c0c5e" textLength="27.8" lengthAdjust="spacingAndGlyphs" >de</text><text x="631.7" y="566.5" font-family="'DejaVu Sans', sans-serif" font-size="21.00" font-weight="normal" fill="#0c0c5e" textLength="85.0" lengthAdjust="spacingAndGlyphs" >joueurs</text><text x="723.8" y="566.5" font-family="'DejaVu Sans', sans-serif" font-size="21.00" font-weight="normal" fill="#0c0c5e" textLength="47.4" lengthAdjust="spacingAndGlyphs" >sont</text><text x="778.4" y="566.5" font-family="'DejaVu Sans', sans-serif" font-size="21.00" font-weight="normal" fill="#0c0c5e" textLength="119.6" lengthAdjust="spacingAndGlyphs" >rassemblés</text><text x="903.5" y="566.5" font-family="'DejaVu Sans', sans-serif" font-size="21.00" font-weight="normal" fill="#0c0c5e" textLength="76.1" lengthAdjust="spacingAndGlyphs" >durant</text><text x="442.0" y="600.4" font-family="'DejaVu Sans', sans-serif" font-size="21.00" font-weight="normal" fill="#0c0c5e" textLength="12.2" lengthAdjust="spacingAndGlyphs" >1</text><text x="462.8" y="600.4" font-family="'DejaVu Sans', sans-serif" font-size="21.00" font-weight="normal" fill="#0c0c5e" textLength="107.9" lengthAdjust="spacingAndGlyphs" >wee-kend</text><text x="576.7" y="600.4" font-family="'DejaVu Sans', sans-serif" font-size="21.00" font-weight="normal" fill="#0c0c5e" textLength="33.1" lengthAdjust="spacingAndGlyphs" >par</text><text x="618.2" y="600.4" font-family="'DejaVu Sans', sans-serif" font-size="21.00" font-weight="normal" fill="#0c0c5e" textLength="20.4" lengthAdjust="spacingAndGlyphs" >la</text><text x="644.6" y="600.4" font-family="'DejaVu Sans', sans-serif" font-size="21.00" font-weight="normal" fill="#0c0c5e" textLength="60.8" lengthAdjust="spacingAndGlyphs" >Ligue</text><text x="712.8" y="600.4" font-family="'DejaVu Sans', sans-serif" font-size="21.00" font-weight="normal" fill="#0c0c5e" textLength="26.9" lengthAdjust="spacingAndGlyphs" >de</text><text x="747.1" y="600.4" font-family="'DejaVu Sans', sans-serif" font-size="21.00" font-weight="normal" fill="#0c0c5e" textLength="91.8" lengthAdjust="spacingAndGlyphs" >Football</text><text x="843.7" y="600.4" font-family="'DejaVu Sans', sans-serif" font-size="21.00" font-weight="normal" fill="#0c0c5e" textLength="37.6" lengthAdjust="spacingAndGlyphs" >des</text><text x="888.3" y="600.4" font-family="'DejaVu Sans', sans-serif" font-size="21.00" font-weight="normal" fill="#0c0c5e" textLength="48.0" lengthAdjust="spacingAndGlyphs" >Pays</text><text x="943.6" y="600.4" font-family="'DejaVu Sans', sans-serif" font-size="21.00" font-weight="normal" fill="#0c0c5e" textLength="27.3" lengthAdjust="spacingAndGlyphs" >de</text><text x="977.0" y="600.4" font-family="'DejaVu Sans', sans-serif" font-size="21.00" font-weight="normal" fill="#0c0c5e" textLength="19.6" lengthAdjust="spacingAndGlyphs" >la</text><text x="1000.8" y="600.4" font-family="'DejaVu Sans', sans-serif" font-size="21.00" font-weight="normal" fill="#0c0c5e" textLength="56.5" lengthAdjust="spacingAndGlyphs" >Loire</text><text x="441.2" y="634.2" font-family="'DejaVu Sans', sans-serif" font-size="21.00" font-weight="normal" fill="#0c0c5e" textLength="33.7" lengthAdjust="spacingAndGlyphs" >Du</text><text x="480.2" y="634.2" font-family="'DejaVu Sans', sans-serif" font-size="21.00" font-weight="normal" fill="#0c0c5e" textLength="15.1" lengthAdjust="spacingAndGlyphs" >8</text><text x="501.4" y="634.2" font-family="'DejaVu Sans', sans-serif" font-size="21.00" font-weight="normal" fill="#0c0c5e" textLength="19.6" lengthAdjust="spacingAndGlyphs" >et</text><text x="530.7" y="634.2" font-family="'DejaVu Sans', sans-serif" font-size="21.00" font-weight="normal" fill="#0c0c5e" textLength="27.2" lengthAdjust="spacingAndGlyphs" >10</text><text x="564.5" y="634.2" font-family="'DejaVu Sans', sans-serif" font-size="21.00" font-weight="normal" fill="#0c0c5e" textLength="39.8" lengthAdjust="spacingAndGlyphs" >mai</text><text x="609.8" y="634.2" font-family="'DejaVu Sans', sans-serif" font-size="21.00" font-weight="normal" fill="#0c0c5e" textLength="57.6" lengthAdjust="spacingAndGlyphs" >2026</text><text x="1152.9" y="761.0" font-family="'Liberation Sans', sans-serif" font-size="45.00" font-weight="bold" fill="#ff1a1a" textLength="48.2" lengthAdjust="spacingAndGlyphs" >LES</text><text x="1209.7" y="761.0" font-family="'Liberation Sans', sans-serif" font-size="45.00" font-weight="bold" fill="#ff1a1a" textLength="130.1" lengthAdjust="spacingAndGlyphs" >JOUEURS</text><text x="1348.0" y="761.0" font-family="'Liberation Sans', sans-serif" font-size="45.00" font-weight="bold" fill="#ff1a1a" textLength="211.8" lengthAdjust="spacingAndGlyphs" >NON-RETENUS</text><text x="1568.5" y="761.0" font-family="'Liberation Sans', sans-serif" font-size="45.00" font-weight="bold" fill="#ff1a1a" textLength="132.0" lengthAdjust="spacingAndGlyphs" >PEUVENT</text><text x="1146.4" y="816.9" font-family="'Liberation Sans', sans-serif" font-size="45.00" font-weight="bold" fill="#ff1a1a" textLength="145.3" lengthAdjust="spacingAndGlyphs" >POSTULER</text><text x="1301.2" y="816.9" font-family="'Liberation Sans', sans-serif" font-size="45.00" font-weight="bold" fill="#ff1a1a" textLength="57.5" lengthAdjust="spacingAndGlyphs" >AUX</text><text x="1369.0" y="816.9" font-family="'Liberation Sans', sans-serif" font-size="45.00" font-weight="bold" fill="#ff1a1a" textLength="140.8" lengthAdjust="spacingAndGlyphs" >SECTIONS</text><text x="1519.0" y="816.9" font-family="'Liberation Sans', sans-serif" font-size="45.00" font-weight="bold" fill="#ff1a1a" textLength="150.6" lengthAdjust="spacingAndGlyphs" >SPORTIVES</text><text x="1152.1" y="872.5" font-family="'Liberation Sans', sans-serif" font-size="45.00" font-weight="bold" fill="#ff1a1a" textLength="161.0" lengthAdjust="spacingAndGlyphs" >SCOLAIRES.</text><text x="255.3" y="936.7" font-family="'Liberation Sans', sans-serif" font-size="63.20" font-weight="bold" fill="#ffc000" textLength="149.1" lengthAdjust="spacingAndGlyphs" >ENTRÉE</text><text x="417.8" y="936.7" font-family="'Liberation Sans', sans-serif" font-size="63.20" font-weight="bold" fill="#000a5c" textLength="51.5" lengthAdjust="spacingAndGlyphs" >AU</text><text x="484.3" y="936.7" font-family="'Liberation Sans', sans-serif" font-size="63.20" font-weight="bold" fill="#000a5c" textLength="96.7" lengthAdjust="spacingAndGlyphs" >PÔLE</text><text x="594.3" y="936.7" font-family="'Liberation Sans', sans-serif" font-size="63.20" font-weight="bold" fill="#000a5c" textLength="157.1" lengthAdjust="spacingAndGlyphs" >ESPOIRS</text><text x="169.8" y="1013.9" font-family="'Liberation Sans', sans-serif" font-size="63.20" font-weight="bold" fill="#000a5c" textLength="48.1" lengthAdjust="spacingAndGlyphs" >DE</text><text x="231.8" y="1013.9" font-family="'Liberation Sans', sans-serif" font-size="63.20" font-weight="bold" fill="#000a5c" textLength="46.1" lengthAdjust="spacingAndGlyphs" >LA</text><text x="291.3" y="1013.9" font-family="'Liberation Sans', sans-serif" font-size="63.20" font-weight="bold" fill="#000a5c" textLength="116.9" lengthAdjust="spacingAndGlyphs" >LIGUE</text><text x="420.6" y="1013.9" font-family="'Liberation Sans', sans-serif" font-size="63.20" font-weight="bold" fill="#000a5c" textLength="70.7" lengthAdjust="spacingAndGlyphs" >DES</text><text x="507.9" y="1013.9" font-family="'Liberation Sans', sans-serif" font-size="63.20" font-weight="bold" fill="#000a5c" textLength="82.5" lengthAdjust="spacingAndGlyphs" >PAYS</text><text x="605.6" y="1013.9" font-family="'Liberation Sans', sans-serif" font-size="63.20" font-weight="bold" fill="#000a5c" textLength="47.2" lengthAdjust="spacingAndGlyphs" >DE</text><text x="671.3" y="1013.9" font-family="'Liberation Sans', sans-serif" font-size="63.20" font-weight="bold" fill="#000a5c" textLength="42.0" lengthAdjust="spacingAndGlyphs" >LA</text><text x="727.1" y="1013.9" font-family="'Liberation Sans', sans-serif" font-size="63.20" font-weight="bold" fill="#000a5c" textLength="110.3" lengthAdjust="spacingAndGlyphs" >LOIRE</text><text x="317.9" y="1061.4" font-family="'DejaVu Sans', sans-serif" font-size="28.40" font-weight="normal" fill="#ffc000" textLength="33.7" lengthAdjust="spacingAndGlyphs" >16</text><text x="361.4" y="1061.4" font-family="'DejaVu Sans', sans-serif" font-size="28.40" font-weight="normal" fill="#ffc000" textLength="110.2" lengthAdjust="spacingAndGlyphs" >joueurs</text><text x="479.2" y="1061.4" font-family="'DejaVu Sans', sans-serif" font-size="28.40" font-weight="normal" fill="#ffc000" textLength="90.0" lengthAdjust="spacingAndGlyphs" >seront</text><text x="579.1" y="1061.4" font-family="'DejaVu Sans', sans-serif" font-size="28.40" font-weight="normal" fill="#ffc000" textLength="112.9" lengthAdjust="spacingAndGlyphs" >retenus</text><text x="959.4" y="953.2" font-family="'DejaVu Sans', sans-serif" font-size="27.40" font-weight="normal" fill="#0c0c5e" textLength="243.5" lengthAdjust="spacingAndGlyphs" >Renseignements</text><text x="1210.3" y="953.2" font-family="'DejaVu Sans', sans-serif" font-size="27.40" font-weight="normal" fill="#0c0c5e" textLength="41.4" lengthAdjust="spacingAndGlyphs" >via</text><text x="1259.9" y="953.2" font-family="'DejaVu Sans', sans-serif" font-size="27.40" font-weight="normal" fill="#0c0c5e" textLength="41.0" lengthAdjust="spacingAndGlyphs" >les</text><text x="1306.5" y="953.2" font-family="'DejaVu Sans', sans-serif" font-size="27.40" font-weight="normal" fill="#0c0c5e" textLength="216.0" lengthAdjust="spacingAndGlyphs" >établissements</text><text x="1530.2" y="953.2" font-family="'DejaVu Sans', sans-serif" font-size="27.40" font-weight="normal" fill="#0c0c5e" textLength="134.1" lengthAdjust="spacingAndGlyphs" >scolaires.</text><text x="1115.8" y="992.0" font-family="'DejaVu Sans', sans-serif" font-size="21.40" font-weight="normal" fill="#0c0c5e" textLength="69.1" lengthAdjust="spacingAndGlyphs" >(Blain,</text><text x="1191.2" y="992.0" font-family="'DejaVu Sans', sans-serif" font-size="21.40" font-weight="normal" fill="#0c0c5e" textLength="119.4" lengthAdjust="spacingAndGlyphs" >Carquefou</text><text x="1315.3" y="992.0" font-family="'DejaVu Sans', sans-serif" font-size="21.40" font-weight="normal" fill="#0c0c5e" textLength="20.3" lengthAdjust="spacingAndGlyphs" >et</text><text x="1341.4" y="992.0" font-family="'DejaVu Sans', sans-serif" font-size="21.40" font-weight="normal" fill="#0c0c5e" textLength="166.9" lengthAdjust="spacingAndGlyphs" >Châteaubriant)</text><text x="15.6" y="191.9" font-family="'Liberation Sans', sans-serif" font-size="17.50" font-weight="bold" fill="#222B5B" textLength="15.3" lengthAdjust="spacingAndGlyphs" >de</text><text x="35.4" y="205.0" font-family="'Liberation Sans', sans-serif" font-size="34.20" font-weight="bold" fill="#5bc0e3" textLength="208.6" lengthAdjust="spacingAndGlyphs" >LOIRE-ATLANTIQUE</text><text x="1548.1" y="211.3" font-family="'Liberation Sans', sans-serif" font-size="11.50" font-weight="bold" fill="#fff" textLength="65.0" lengthAdjust="spacingAndGlyphs" >LIGUE</text><text x="1563.5" y="299.4" font-family="'Liberation Sans', sans-serif" font-size="10.40" font-weight="bold" fill="#fff" textLength="34.1" lengthAdjust="spacingAndGlyphs" >PAYS</text><text x="1539.0" y="312.4" font-family="'Liberation Sans', sans-serif" font-size="9.90" font-weight="bold" fill="#fff" textLength="83.6" lengthAdjust="spacingAndGlyphs" >DE LA LOIRE</text>
<g transform="translate(380.8,343.1) rotate(23)" stroke="#edf0f8" stroke-width="0.8" opacity="0.7"><line x1="-54.0" y1="-52.0" x2="54.0" y2="-52.0"/><line x1="-54.0" y1="-49.7" x2="54.0" y2="-49.7"/><line x1="-54.0" y1="-47.4" x2="54.0" y2="-47.4"/><line x1="-54.0" y1="-45.1" x2="54.0" y2="-45.1"/><line x1="-54.0" y1="-42.8" x2="54.0" y2="-42.8"/><line x1="-54.0" y1="-40.5" x2="54.0" y2="-40.5"/><line x1="-54.0" y1="-38.2" x2="54.0" y2="-38.2"/><line x1="-54.0" y1="-35.9" x2="54.0" y2="-35.9"/><line x1="-54.0" y1="-33.6" x2="54.0" y2="-33.6"/><line x1="-54.0" y1="-31.3" x2="54.0" y2="-31.3"/><line x1="-54.0" y1="-29.0" x2="54.0" y2="-29.0"/><line x1="-54.0" y1="-26.7" x2="54.0" y2="-26.7"/><line x1="-54.0" y1="-24.4" x2="54.0" y2="-24.4"/><line x1="-54.0" y1="-22.1" x2="54.0" y2="-22.1"/><line x1="-54.0" y1="-19.8" x2="54.0" y2="-19.8"/><line x1="-54.0" y1="-17.5" x2="54.0" y2="-17.5"/><line x1="-54.0" y1="-15.2" x2="54.0" y2="-15.2"/><line x1="-54.0" y1="-12.9" x2="54.0" y2="-12.9"/><line x1="-54.0" y1="-10.6" x2="54.0" y2="-10.6"/><line x1="-54.0" y1="-8.3" x2="54.0" y2="-8.3"/><line x1="-54.0" y1="-6.0" x2="54.0" y2="-6.0"/><line x1="-54.0" y1="-3.7" x2="54.0" y2="-3.7"/><line x1="-54.0" y1="-1.4" x2="54.0" y2="-1.4"/><line x1="-54.0" y1="0.9" x2="54.0" y2="0.9"/><line x1="-54.0" y1="3.2" x2="54.0" y2="3.2"/><line x1="-54.0" y1="5.5" x2="54.0" y2="5.5"/><line x1="-54.0" y1="7.8" x2="54.0" y2="7.8"/><line x1="-54.0" y1="10.1" x2="54.0" y2="10.1"/><line x1="-54.0" y1="12.4" x2="54.0" y2="12.4"/><line x1="-54.0" y1="14.7" x2="54.0" y2="14.7"/><line x1="-54.0" y1="17.0" x2="54.0" y2="17.0"/><line x1="-54.0" y1="19.3" x2="54.0" y2="19.3"/><line x1="-54.0" y1="21.6" x2="54.0" y2="21.6"/><line x1="-54.0" y1="23.9" x2="54.0" y2="23.9"/><line x1="-54.0" y1="26.2" x2="54.0" y2="26.2"/><line x1="-54.0" y1="28.5" x2="54.0" y2="28.5"/><line x1="-54.0" y1="30.8" x2="54.0" y2="30.8"/><line x1="-54.0" y1="33.1" x2="54.0" y2="33.1"/><line x1="-54.0" y1="35.4" x2="54.0" y2="35.4"/><line x1="-54.0" y1="37.7" x2="54.0" y2="37.7"/><line x1="-54.0" y1="40.0" x2="54.0" y2="40.0"/><line x1="-54.0" y1="42.3" x2="54.0" y2="42.3"/><line x1="-54.0" y1="44.6" x2="54.0" y2="44.6"/><line x1="-54.0" y1="46.9" x2="54.0" y2="46.9"/><line x1="-54.0" y1="49.2" x2="54.0" y2="49.2"/><line x1="-54.0" y1="51.5" x2="54.0" y2="51.5"/></g><g transform="translate(374.8,350.5) rotate(23.7) scale(1.06,1.035)"><rect x="-32" y="-36.5" width="64" height="73" rx="4" fill="#2553a9"/><rect x="-27" y="-31" width="54" height="62.5" rx="1" fill="#fff"/><path d="M-17,-33 L-13,-39.5 L-5,-39.5 L-5,-42 A5.8,5.8 0 1 1 5,-42 L5,-39.5 L13,-39.5 L17,-33 L17,-28 L-17,-28 Z" fill="#2553a9"/><circle cx="0" cy="-44.5" r="2.8" fill="#fff"/><circle cx="-17" cy="-18.5" r="6.3" fill="#fff" stroke="#2553a9" stroke-width="1.1"/><path d="M-5,-21.0 H11 M-5,-16.0 H22" stroke="#7b9ad8" stroke-width="1.7" fill="none"/><circle cx="-17" cy="1.5" r="6.3" fill="#fff" stroke="#2553a9" stroke-width="1.1"/><path d="M-5,-1.0 H11 M-5,4.0 H22" stroke="#7b9ad8" stroke-width="1.7" fill="none"/><circle cx="-17" cy="21.5" r="6.3" fill="#fff" stroke="#2553a9" stroke-width="1.1"/><path d="M-5,19.0 H11 M-5,24.0 H22" stroke="#7b9ad8" stroke-width="1.7" fill="none"/><path d="M-19.5,-1 L-14.5,4 M-14.5,-1 L-19.5,4" stroke="#5f83cc" stroke-width="1.8"/></g><path d="M379,372.6 L426.5,356" stroke="#2553a9" stroke-width="2.6" stroke-linecap="round"/><path d="M428.5,355.3 L432.3,354" stroke="#2553a9" stroke-width="4" stroke-linecap="round"/>
<g fill="none" stroke="#2553a9" stroke-width="3.1" stroke-linejoin="round" stroke-linecap="round"><ellipse cx="214.1" cy="357.5" rx="8.3" ry="10.2"/><path d="M205.5,356 L205.2,343.5 L209,342 L206.8,337.6 L215,341.5 L224,342.8 L223.5,356 L220.5,349 L214.5,352.5 L208.5,349 Z" fill="#2553a9" stroke-width="1.5"/><path d="M209.5,366.5 L209.5,370 L214.1,374.8 L219.5,370 L219.5,366.5"/><path d="M209.5,369.2 C199,369.5 194,374 192.3,384.2 L200.6,384.2 M219.5,369.2 C229,369.5 234.5,374 236.8,384.2 L227.8,384.2"/><path d="M201.2,380 L200.6,405.6 L227.4,405.6 L226.8,380"/><path d="M194.2,385.5 L194.2,410 C194,414 196.5,416.5 198.5,416.5 M235.2,385.5 L235.2,410 C235.2,414 233.5,416 231.5,417"/><path d="M200,385.5 L199,412 M228.5,385.5 L232.5,412"/><path d="M200.6,405.6 L198.2,425.8 L213,425.8 L214.2,414.5 L217.5,420.5 L233,416 L230.5,407"/><path d="M200.3,426.5 L201.2,443 L201.5,461.5 M211.7,426.5 L209.8,443 L209.2,461.5 M201.2,443 L209.8,443"/><path d="M192.8,464.5 C195,461.5 199,461 201.5,461.5 L209.5,461.5 L210.5,465.5 Z" fill="#2553a9" stroke-width="1.6"/><path d="M217.5,420.5 L226.5,432 L224,449 M233,416 L235.5,427 L231.5,449 M226.5,432 L234.5,433.5"/><path d="M221.5,450.5 L232,449.5 L238.5,455 L236,458 L221.5,453.5 Z" fill="#2553a9" stroke-width="1.6"/><circle cx="228.6" cy="462.6" r="9.2"/><path d="M221,458.5 C226,459.5 228,463 228.5,471 M222.5,468 C227,466.5 232,463.5 234.5,456.5 M229.5,456 C232,459 235,461 237.5,461.5" stroke-width="1.4"/></g>
<g><circle cx="93.2" cy="567.2" r="31.6" fill="#fff" stroke="#003399" stroke-width="3.6"/><g fill="#003399" stroke="#003399" stroke-width="1" stroke-linejoin="round"><polygon points="79.4,542.1 93.3,542.5 94.6,554.4 82.3,561.1 72.6,553.1"/><polygon points="105.6,560.7 116.6,557.8 122.1,566.7 116.2,579.8 104.8,575.5"/><polygon points="72.6,579.8 79.8,574.7 93.3,581.9 92.1,592.5 78.9,592"/></g><g fill="none" stroke="#003399" stroke-width="1.7" stroke-linecap="round"><path d="M94.6,554.4 L104.8,561.1 L104,575.5 L93.3,581.9 L81.5,574 L82,561.2"/><path d="M93.3,542.5 C98,539.5 101,538.5 104,538.5 M79.4,542.1 C78,540.5 77.5,539.5 78.5,538.5 M72.6,553.1 C68.5,554.5 66,556 64,558.5 M72.6,579.8 C69,578.5 66.5,576 64.5,573.5 M78.9,592 C79.5,593.5 80.5,595 82,596.5 M92.1,592.5 C95,595 97,596.5 100,597.5 M116.2,579.8 C116.5,583.5 116,586.5 114.5,589.5 M116.6,557.8 C116.5,553 115.5,550 114,547"/></g><path d="M104,537.5 C113,541 119,547 122.5,556 L119.5,551.5 C116.5,546 111,541.5 104,539.5 Z M123.5,570 C123.5,578 120,586 114.5,591 C118,585 120.5,578 121.8,570 Z M82,597 C88,599.5 95,599.5 100.5,598 L100,596.5 C94,597 88,596.5 82,595 Z" fill="#003399" stroke="#003399" stroke-width="1.6"/></g>
<g transform="translate(398.7,732.9) rotate(-44.2)" fill="none" stroke="#2553a9" stroke-width="3.3" stroke-linejoin="round"><rect x="-41.6" y="-32.2" width="83.2" height="64.4"/><line x1="0" y1="-32.2" x2="0" y2="32.2"/><circle r="13"/><rect x="-41.6" y="-13.6" width="8.9" height="27.2"/><rect x="32.7" y="-13.6" width="8.9" height="27.2"/></g>
<g fill="#003399" stroke="#003399" stroke-width="0.8" stroke-linejoin="round"><path d="M 1393.0,855.9 L 1438.6,860.0 L 1471.6,890.4 Q 1472.3,892.3 1469.7,892.8 L 1425.2,888.9 L 1403.7,869.1 L 1400.4,865.6 Z "/><path d="M 1402.6,873.7 L 1423.0,893.0 L 1452.7,896.0 L 1447.8,907.1 Q 1445.2,911.2 1437.1,910.8 C 1419.3,908.9 1401.5,897.8 1397.4,887.4 Q 1396.7,884.5 1398.5,881.5 Z "/><path d="M 1402.6,867.1 C 1397.1,869.7 1394.8,873.4 1392.6,877.8 " fill="none" stroke-width="4.2" stroke-linecap="round"/><circle cx="1392.2" cy="878.9" r="4"/><path d="M 1388.9,882.6 C 1385.9,888.2 1380.8,891.9 1374.5,893.4 L 1378.9,899.3 Q 1381.5,900.4 1384.5,898.6 C 1388.9,894.9 1391.1,888.2 1393.0,883.4 Z "/></g>
<g fill="#2553a9" stroke="#2553a9" stroke-width="0.8" stroke-linejoin="round"><polygon points="1007.8,1051.7 1009.9,1053.6 1010.9,1056.8 1010.2,1060.1 1017.2,1065.2 1018.6,1067.5 1020.7,1066.4 1017.8,1061.0 1016.9,1055.7 1019.0,1051.5 1023.0,1049.4 1026.7,1049.6 1029.8,1053.4 1030.5,1058.9 1028.8,1063.1 1029.3,1064.9 1034.5,1067.8 1041.3,1074.1 1046.1,1085.1 1051.3,1090.9 1054.5,1094.5 1052.9,1097.5 1048.7,1097.9 1045.0,1092.4 1040.3,1086.7 1037.5,1085.1 1038.2,1092.4 1039.8,1096.1 1038.2,1097.5 1040.8,1099.2 1045.5,1105.5 1053.4,1117.6 1054.7,1120.7 1057.6,1118.6 1063.4,1117.6 1063.9,1113.4 1066.5,1112.4 1075.4,1116.0 1078.6,1120.2 1077.0,1122.3 1067.0,1122.3 1059.7,1128.1 1057.6,1130.7 1053.9,1131.8 1050.3,1130.2 1042.9,1123.4 1040.3,1123.9 1033.5,1120.2 1031.4,1117.1 1019.3,1127.6 1016.7,1126.5 1013.6,1128.6 1014.8,1134.4 1012.5,1144.9 1012.5,1151.2 1013.3,1154.3 1012.0,1157.2 1001.0,1156.9 995.7,1155.9 993.3,1153.3 994.7,1151.7 998.9,1151.2 1002.5,1149.1 1005.7,1148.5 1005.7,1134.4 1004.3,1126.5 1007.8,1121.3 1010.2,1115.0 1017.2,1110.1 1016.2,1107.6 1018.3,1105.5 1016.9,1090.3 1016.2,1079.8 1016.9,1074.1 1013.6,1071.5 1005.2,1057.3 1005.7,1053.1"/><circle cx="1028.4" cy="1153.0" r="7.4"/></g>
</svg>
</body></html>
